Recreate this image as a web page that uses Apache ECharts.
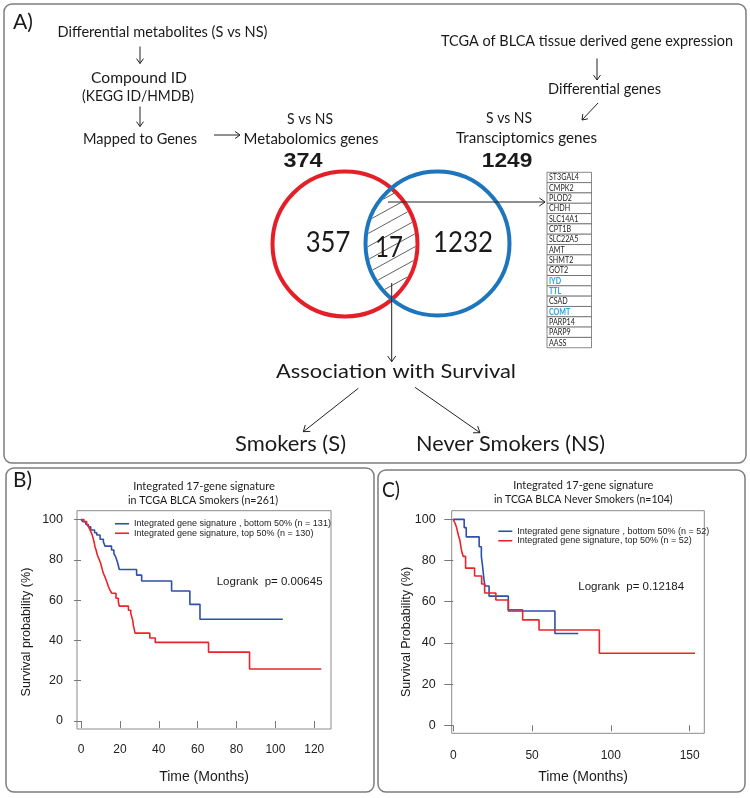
<!DOCTYPE html>
<html><head><meta charset="utf-8">
<script src="https://cdn.jsdelivr.net/npm/echarts@6/dist/echarts.min.js"></script>
<style>html,body{margin:0;padding:0;background:#fff}#c{width:750px;height:798px}</style>
</head><body><div id="c"></div>
<script>
// ---------------- data ----------------
const vennTotals = [374, 1249];
const vennCounts = [357, 17, 1232];
const genes = ['ST3GAL4','CMPK2','PLOD2','CHDH','SLC14A1','CPT1B','SLC22A5','AMT','SHMT2','GOT2','IYD','TTL','CSAD','COMT','PARP14','PARP9','AASS'];
const highlightGenes = ['IYD','TTL','COMT'];

const smkTicksX = [0,20,40,60,80,100,120];
const nsmTicksX = [0,50,100,150];
const survTicksY = [0,20,40,60,80,100];

// Panel B (smokers)
const smkLowTime = [0,1,2.5,3.8,5,7,8.1,9.8,11.5,12.3,15.7,16.9,17.8,18.7,19.7,28.6,31.2,46.6,56,61.2,103.8];
const smkLowSurv = [100,98.9,97.5,96.4,94.8,93.4,92.3,90.2,89,86.8,84.9,83.2,81.5,79,75.2,72.4,69.5,64.5,57.9,50.5,50.5];
const smkHighTime = [0,1.5,2.9,3.8,4.6,5.5,6,6.7,7.2,7.7,8.4,9.4,10.1,11,11.5,12.3,13.2,14.1,14.9,15.8,18,19.2,19.7,24.4,25.6,26.6,26.9,27.3,27.8,35.4,38.2,65.6,86.7,123.6];
const smkHighSurv = [100,99,97.7,96.5,95,93,91.5,89,86.5,85,82.4,80,78.3,75,73.3,71.6,69.2,66.7,65,63.4,60.9,59.2,57,55,53.4,50,47.6,46,43.6,41.2,39,34.2,25.8,25.8];

// Panel C (never smokers)
const nsmLowTime = [0,6.9,8.2,16.4,17.8,18.6,19.5,20.1,22.7,34.9,64.5,79.3];
const nsmLowSurv = [100,96,91.5,86.7,82,77,70.6,67.6,62.7,55.5,44.6,44.6];
const nsmHighTime = [0,1.1,2.1,2.7,3.2,4.2,4.9,5.5,6.3,7.8,13.5,18,19.9,27,34.9,44,54.4,92.7,153.4];
const nsmHighSurv = [100,98.1,96,94,92.3,89.7,86.3,84,82,76.3,72.5,68.6,64.2,60.8,56.1,51.2,46.3,35,35];

const nameBLow = 'Integrated gene signature , bottom 50% (n = 131)';
const nameBHigh = 'Integrated gene signature, top 50% (n = 130)';
const nameCLow = 'Integrated gene signature , bottom 50% (n = 52)';
const nameCHigh = 'Integrated gene signature, top 50% (n = 52)';

// ---------------- helpers ----------------
const FH = 'Lato', FA = 'Liberation Sans';
const mctx = document.createElement('canvas').getContext('2d');
function measure(str, fam, wt, size){ mctx.font = (wt||'normal') + ' ' + size + 'px "' + fam + '"'; return mctx.measureText(str).width; }
const g = [];
// size = font size (sets glyph height); w = target width (horizontal scale)
function text(str, cx, cy, o){
  o = o || {};
  const fam = o.family || FH, wt = o.weight || 'normal';
  const size = o.size || 14;
  const sx = o.w ? o.w / measure(str, fam, wt, size) : 1;
  const al = o.align || 'center';
  g.push({type:'text', x:cx, y:cy, rotation:o.rot||0, scaleX:sx, z:20, silent:true,
    style:{text:str, fontSize:size, fontFamily:fam, fontWeight:wt, fill:o.color||'#1a1a1a',
      align:al, textAlign:al, verticalAlign:'middle', textVerticalAlign:'middle'}});
}
function arrow(x1,y1,x2,y2,h){
  h = h || 6; const a = Math.atan2(y2-y1, x2-x1), sp = 0.62;
  g.push({type:'line', z:15, silent:true, shape:{x1,y1,x2,y2}, style:{stroke:'#222', lineWidth:1}});
  g.push({type:'polyline', z:15, silent:true, shape:{points:[[x2-h*Math.cos(a-sp), y2-h*Math.sin(a-sp)],[x2,y2],[x2-h*Math.cos(a+sp), y2-h*Math.sin(a+sp)]]},
    style:{stroke:'#222', lineWidth:1, fill:null}});
}
function box(x1,y1,x2,y2){
  g.push({type:'rect', z:1, silent:true, shape:{x:x1,y:y1,width:x2-x1,height:y2-y1,r:8}, style:{fill:null, stroke:'#7d7d7d', lineWidth:1.5}});
}

// ---------------- panel frames ----------------
box(4,4,746,463);
box(6,468,374,792);
box(378,470,745,792);

// ---------------- panel A ----------------
const TS = 16;
text('A)', 23, 22.5, {size:21, w:20});
text('Differential metabolites (S vs NS)', 162.5, 31.5, {size:TS, w:210});
arrow(140,46.5,140,63.5);
text('Compound ID', 139, 77.5, {size:TS, w:96});
text('(KEGG ID/HMDB)', 138, 96, {size:TS, w:112});
arrow(140,106.5,140,126.5);
text('Mapped to Genes', 140, 138.5, {size:TS, w:114});
arrow(214,135,240,135);
text('S vs NS', 310, 119, {size:TS, w:46});
text('Metabolomics genes', 311, 138.5, {size:TS, w:135});
text(String(vennTotals[0]), 303, 161, {size:21, w:39, family:FA, weight:'bold'});

text('TCGA of BLCA tissue derived gene expression', 587, 41, {size:TS, w:292});
arrow(597,58.5,597,80);
text('Differential genes', 604.5, 89, {size:TS, w:113});
arrow(598,103,582,120);
text('S vs NS', 509, 117.5, {size:TS, w:46});
text('Transciptomics genes', 526.5, 137.5, {size:TS, w:141});
text(String(vennTotals[1]), 507, 161.5, {size:21, w:50.5, family:FA, weight:'bold'});

// Venn
const C1 = {x:345, y:244, r:72.5}, C2 = {x:437.5, y:243.5, r:72};
function span(c, m, C, r){
  const d = c - C.y, A = 1 + m*m, B = -2*(C.x + d*m), CC = C.x*C.x + d*d - r*r;
  const disc = B*B - 4*A*CC; if (disc <= 0) return null;
  const s = Math.sqrt(disc); return [(-B - s)/(2*A), (-B + s)/(2*A)];
}
const hm = 0.55;
for (let c = 384; c <= 545; c += 13){
  const s1 = span(c, hm, C1, C1.r - 2), s2 = span(c, hm, C2, C2.r - 2);
  if (!s1 || !s2) continue;
  const a = Math.max(s1[0], s2[0]), b = Math.min(s1[1], s2[1]);
  if (b - a < 1) continue;
  g.push({type:'line', z:5, silent:true, shape:{x1:a, y1:c-hm*a, x2:b, y2:c-hm*b}, style:{stroke:'#3a3a3a', lineWidth:0.8}});
}
g.push({type:'circle', z:8, silent:true, shape:{cx:C1.x, cy:C1.y, r:C1.r}, style:{fill:null, stroke:'#e41f27', lineWidth:4}});
g.push({type:'circle', z:9, silent:true, shape:{cx:C2.x, cy:C2.y, r:C2.r}, style:{fill:null, stroke:'#1d76bd', lineWidth:4}});
text(String(vennCounts[0]), 328, 243, {size:28, w:44.7});
text(String(vennCounts[1]), 389, 248, {size:28, w:28});
text(String(vennCounts[2]), 463, 243, {size:28, w:60});

arrow(388,202,545,202,7);
arrow(391.7,283,391.7,361.7,7);

// gene table
const tX = 547, tY = 172.3, tW = 44.5, rowH = 10.32;
const gScale = 30 / measure('ST3GAL4', FH, 'normal', 8.5);
genes.forEach((gn, i) => {
  const y = tY + i*rowH;
  g.push({type:'rect', z:10, silent:true, shape:{x:tX, y:y, width:tW, height:rowH}, style:{fill:'#fff', stroke:'#555', lineWidth:0.7}});
  const hl = highlightGenes.includes(gn);
  const w = measure(gn, FH, hl ? 'bold' : 'normal', 8.5) * gScale;
  text(gn, tX + 2, y + rowH/2 + 0.3, {size:8.5, w:w, align:'left', color: hl ? '#27a3df' : '#1a1a1a', weight: hl ? 'bold' : 'normal'});
});

text('Association with Survival', 396, 372, {size:20, w:240});
arrow(358.3,388.3,303.3,431.7,7);
arrow(415,387.3,480,432.7,7);
text('Smokers (S)', 290.5, 444, {size:21, w:111});
text('Never Smokers (NS)', 510.5, 444, {size:21, w:189});

// ---------------- panel B & C texts ----------------
text('B)', 22.5, 480, {size:21, w:19});
text('Integrated 17-gene signature', 204, 486, {size:12, w:141.7});
text('in TCGA BLCA Smokers (n=261)', 203, 500, {size:12, w:150});
text('Logrank  p= 0.00645', 216.7, 581.7, {family:FA, size:11.5, align:'left'});
text('Survival probability (%)', 26.5, 632, {family:FA, size:12.6, rot:Math.PI/2});
text('Time (Months)', 204, 776.7, {family:FA, size:14});

text('C)', 391, 490, {size:21, w:18});
text('Integrated 17-gene signature', 583.3, 485, {size:12, w:140});
text('in TCGA BLCA Never Smokers (n=104)', 583.3, 499, {size:12, w:178.7});
text('Logrank  p= 0.12184', 578.3, 586.7, {family:FA, size:11.5, align:'left'});
text('Survival Probability (%)', 407, 632, {family:FA, size:12.6, rot:Math.PI/2});
text('Time (Months)', 583, 776.7, {family:FA, size:14});

// ---------------- chart ----------------
const RED = '#ee2229', BLUE = '#2f4fa8';
function axisX(gi, min, max, ticks, margin, tl){
  return {type:'value', gridIndex:gi, min, max,
    axisLine:{show:false}, splitLine:{show:false},
    axisTick:{show:true, length:tl, customValues:ticks, lineStyle:{color:'#777', width:1}},
    axisLabel:{customValues:ticks, margin, fontSize:12, fontFamily:FA, color:'#222'}};
}
function axisY(gi, min, max, ticks, margin, tl){
  return {type:'value', gridIndex:gi, min, max,
    axisLine:{show:false}, splitLine:{show:false},
    axisTick:{show:true, length:tl, customValues:ticks, lineStyle:{color:'#777', width:1}},
    axisLabel:{customValues:ticks, margin, fontSize:12.5, fontFamily:FA, color:'#222'}};
}
function km(name, times, surv, color, gi){
  return {name, type:'line', step:'end', xAxisIndex:gi, yAxisIndex:gi, showSymbol:false, symbol:'none',
    silent:true, z:3, data: times.map((t,i) => [t, surv[i]]),
    itemStyle:{color}, lineStyle:{color, width:1.6}};
}
const chart = echarts.init(document.getElementById('c'), null, {renderer:'canvas'});
chart.setOption({
  animation:false,
  backgroundColor:'#fff',
  grid:[
    {left:77, top:510.7, width:254, height:218.3, show:true, borderColor:'#8a8a8a', borderWidth:1, containLabel:false},
    {left:451.7, top:510.7, width:252.6, height:222.6, show:true, borderColor:'#8a8a8a', borderWidth:1, containLabel:false}
  ],
  xAxis:[axisX(0, -2.06, 128.6, smkTicksX, 15, 7), axisX(1, -1.02, 159.3, nsmTicksX, 16, 6)],
  yAxis:[axisY(0, -3.97, 104.37, survTicksY, 14, 7), axisY(1, -3.9, 104.2, survTicksY, 16, 9)],
  legend:[
    {data:[nameBLow, nameBHigh], left:110, top:514, orient:'vertical', itemGap:0, itemWidth:14, itemHeight:1.6, icon:'rect', selectedMode:false,
      textStyle:{fontFamily:FA, fontSize:9, color:'#222', lineHeight:9.5}},
    {data:[nameCLow, nameCHigh], left:493.3, top:521.5, orient:'vertical', itemGap:0, itemWidth:14, itemHeight:1.6, icon:'rect', selectedMode:false,
      textStyle:{fontFamily:FA, fontSize:9, color:'#222', lineHeight:9.5}}
  ],
  series:[
    km(nameBLow, smkLowTime, smkLowSurv, BLUE, 0),
    km(nameBHigh, smkHighTime, smkHighSurv, RED, 0),
    km(nameCLow, nsmLowTime, nsmLowSurv, BLUE, 1),
    km(nameCHigh, nsmHighTime, nsmHighSurv, RED, 1)
  ],
  graphic:{elements:g}
});
</script>
</body></html>
